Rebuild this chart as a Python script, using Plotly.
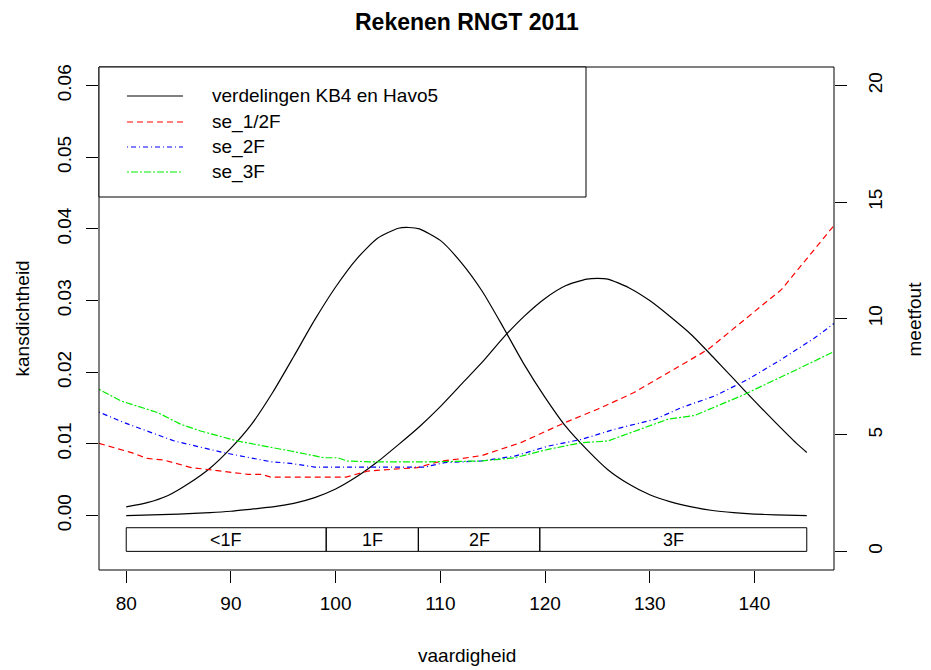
import plotly.graph_objects as go

# ---------------- data ----------------
# density curves (left axis: kansdichtheid)
x_kb4 = [80, 82, 84, 86, 88, 90, 92, 94, 96, 98, 100, 102, 104, 106, 107, 108,
         110, 112, 114, 116, 118, 120, 122, 124, 126, 128, 130, 132, 134, 136,
         138, 140, 142, 145]
d_kb4 = [0.0012, 0.0018, 0.0028, 0.0045, 0.0066, 0.0094, 0.0128, 0.0172, 0.0222,
         0.0273, 0.0319, 0.0358, 0.0387, 0.0401, 0.0402, 0.0400, 0.0384, 0.0353,
         0.0313, 0.0263, 0.0211, 0.0165, 0.0124, 0.0092, 0.0064, 0.0044, 0.0029,
         0.0019, 0.0012, 0.0007, 0.0004, 0.0002, 0.0001, 0.0000]

x_havo5 = [80, 85, 88, 90, 92, 94, 96, 98, 100, 102, 104, 106, 108, 110, 112, 114,
           116, 118, 120, 122, 124, 125, 126, 128, 130, 132, 134, 136, 138, 140,
           142, 144, 145]
d_havo5 = [0.0000, 0.0002, 0.0004, 0.0006, 0.0009, 0.0012, 0.0017, 0.0025, 0.0037,
           0.0054, 0.0075, 0.0099, 0.0124, 0.0152, 0.0183, 0.0214, 0.0248, 0.0278,
           0.0303, 0.0321, 0.0330, 0.0331, 0.0330, 0.0318, 0.0300, 0.0277, 0.0252,
           0.0222, 0.0191, 0.0160, 0.0130, 0.0101, 0.0088]

# measurement error curves (right axis: meetfout)
x_se_half = [77.4, 80.5, 82.0, 83.6, 86.2, 87.8, 90.0, 91.6, 92.9, 93.8, 97.0, 101.0,
             103.1, 105.3, 107.8, 110.1, 112.0, 114.0, 117.7, 121.9, 125.0, 128.5,
             131.7, 135.6, 138.7, 142.6, 147.7]
se_half = [4.64, 4.24, 3.99, 3.92, 3.60, 3.52, 3.41, 3.31, 3.31, 3.19, 3.19, 3.19,
           3.45, 3.52, 3.60, 3.88, 3.98, 4.12, 4.67, 5.53, 6.10, 6.82, 7.67, 8.68,
           9.82, 11.25, 14.05]

x_se_2 = [77.4, 79.8, 84.6, 89.3, 93.8, 95.7, 98.0, 108.5, 110.4, 113.9, 117.1,
          120.3, 123.5, 126.6, 130.5, 133.0, 136.2, 139.4, 142.6, 145.8, 147.7]
se_2 = [5.98, 5.53, 4.74, 4.24, 3.85, 3.78, 3.62, 3.62, 3.81, 3.88, 4.09, 4.52,
        4.81, 5.24, 5.67, 6.17, 6.67, 7.39, 8.25, 9.18, 9.82]

x_se_3 = [77.4, 79.5, 83.0, 85.2, 87.1, 90.6, 95.7, 98.9, 100.2, 101.1, 103.7, 108.0,
          113.9, 117.1, 120.3, 123.5, 126.0, 131.7, 134.3, 138.7, 144.1, 147.7]
se_3 = [6.96, 6.46, 5.96, 5.46, 5.17, 4.74, 4.31, 4.02, 4.02, 3.88, 3.84, 3.84,
        3.88, 4.02, 4.38, 4.67, 4.74, 5.67, 5.84, 6.67, 7.82, 8.60]

# reference levels band
band_edges = [80, 99.1, 107.9, 119.5, 145]
band_labels = ["<1F", "1F", "2F", "3F"]
band_bottom = -0.005
band_top = -0.0017

# axes ticks
x_ticks = [80, 90, 100, 110, 120, 130, 140]
y_ticks = [0.00, 0.01, 0.02, 0.03, 0.04, 0.05, 0.06]
y_ticktext = ["0.00", "0.01", "0.02", "0.03", "0.04", "0.05", "0.06"]
y2_ticks = [0, 5, 10, 15, 20]

legend_labels = ["verdelingen KB4 en Havo5", "se_1/2F", "se_2F", "se_3F"]
legend_colors = ["black", "#FF0000", "#0000FF", "#00EE00"]
legend_dashes = ["solid", "6px,4px", "1px,3px,5px,3px", "2px,2px,7px,2px"]

# ---------------- figure ----------------
FONT = "Liberation Sans, Arial, sans-serif"
fig = go.Figure()

fig.add_trace(go.Scatter(x=x_kb4, y=d_kb4, mode="lines", yaxis="y",
                         line=dict(color="black", width=1.2, shape="spline", smoothing=0.6)))
fig.add_trace(go.Scatter(x=x_havo5, y=d_havo5, mode="lines", yaxis="y",
                         line=dict(color="black", width=1.2, shape="spline", smoothing=0.6)))

for xs, ys, col, dash in [(x_se_half, se_half, legend_colors[1], legend_dashes[1]),
                          (x_se_2, se_2, legend_colors[2], legend_dashes[2]),
                          (x_se_3, se_3, legend_colors[3], legend_dashes[3])]:
    fig.add_trace(go.Scatter(x=xs, y=ys, mode="lines", yaxis="y2",
                             line=dict(color=col, width=1.2, dash=dash)))

shapes = []
annotations = []

# band rectangles + labels
for i, lab in enumerate(band_labels):
    x0, x1 = band_edges[i], band_edges[i + 1]
    shapes.append(dict(type="rect", xref="x", yref="y", x0=x0, x1=x1,
                       y0=band_bottom, y1=band_top,
                       line=dict(color="black", width=1), fillcolor="rgba(0,0,0,0)"))
    annotations.append(dict(x=(x0 + x1) / 2, y=(band_bottom + band_top) / 2,
                            xref="x", yref="y", text=lab, showarrow=False,
                            font=dict(family="Liberation Sans Narrow, " + FONT, size=18, color="black"),
                            xanchor="center", yanchor="middle"))

# plot box
shapes.append(dict(type="rect", xref="paper", yref="paper", x0=0, x1=1, y0=0, y1=1,
                   line=dict(color="black", width=1)))

# legend box (drawn manually, R style)
W, H = 735.0, 503.0
def px(xp):
    return (xp - 99) / W
def py(yp):
    return (570 - yp) / H

shapes.append(dict(type="rect", xref="paper", yref="paper", x0=0, x1=px(586),
                   y0=py(197), y1=1, line=dict(color="black", width=1),
                   fillcolor="white"))
rows = [96, 122, 147, 172]
for lab, col, dash, ry in zip(legend_labels, legend_colors, legend_dashes, rows):
    shapes.append(dict(type="line", xref="paper", yref="paper", x0=px(127), x1=px(183),
                       y0=py(ry), y1=py(ry), line=dict(color=col, width=1.2, dash=dash)))
    annotations.append(dict(x=px(210), y=py(ry), xref="paper", yref="paper", text=lab,
                            showarrow=False, xanchor="left", yanchor="middle",
                            font=dict(family=FONT, size=19, color="black")))

# titles
annotations.append(dict(x=0.5, y=py(22), xref="paper", yref="paper",
                        text="<b>Rekenen RNGT 2011</b>", showarrow=False,
                        xanchor="center", yanchor="middle",
                        font=dict(family=FONT, size=23, color="black")))
annotations.append(dict(x=0.5, y=py(655), xref="paper", yref="paper",
                        text="vaardigheid", showarrow=False,
                        xanchor="center", yanchor="middle",
                        font=dict(family=FONT, size=19, color="black")))
annotations.append(dict(x=px(22), y=0.5, xref="paper", yref="paper",
                        text="kansdichtheid", showarrow=False, textangle=-90,
                        xanchor="center", yanchor="middle",
                        font=dict(family=FONT, size=19, color="black")))
annotations.append(dict(x=px(914), y=0.5, xref="paper", yref="paper",
                        text="meetfout", showarrow=False, textangle=-90,
                        xanchor="center", yanchor="middle",
                        font=dict(family=FONT, size=19, color="black")))

tickfont = dict(family=FONT, size=19, color="black")
fig.update_layout(
    width=931, height=670,
    margin=dict(l=99, r=97, t=67, b=100),
    paper_bgcolor="white", plot_bgcolor="white",
    showlegend=False,
    xaxis=dict(range=[77.4, 147.6], tickvals=x_ticks, ticks="outside", ticklen=12,
               tickwidth=1, tickcolor="black", showgrid=False, zeroline=False,
               showline=False, tickfont=tickfont, ticklabelstandoff=4),
    yaxis=dict(range=[-0.0076, 0.0626], tickvals=y_ticks, ticktext=y_ticktext,
               tickangle=-90, ticks="outside", ticklen=12, tickwidth=1,
               tickcolor="black", showgrid=False, zeroline=False, showline=False,
               tickfont=tickfont, ticklabelstandoff=7),
    yaxis2=dict(range=[-0.8, 20.8], overlaying="y", side="right", tickvals=y2_ticks,
                tickangle=-90, ticks="outside", ticklen=12, tickwidth=1,
                tickcolor="black", showgrid=False, zeroline=False, showline=False,
                tickfont=tickfont, ticklabelstandoff=12),
    shapes=shapes,
    annotations=annotations,
)

fig.write_html("out.html", config={"displayModeBar": False},
               post_script="document.body.style.margin='0px';document.body.style.overflow='hidden';")
